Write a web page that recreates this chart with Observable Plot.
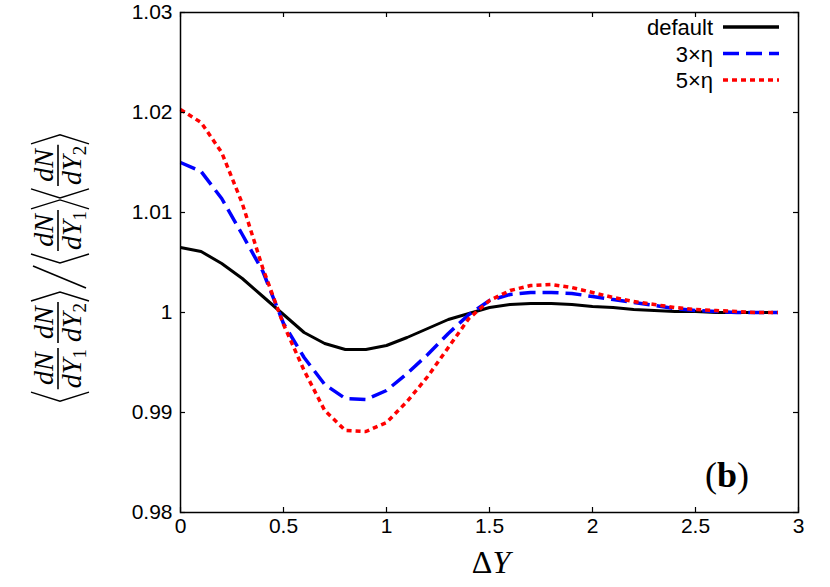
<!DOCTYPE html>
<html><head><meta charset="utf-8">
<script src="https://cdn.jsdelivr.net/npm/d3@7"></script>
<script src="https://cdn.jsdelivr.net/npm/@observablehq/plot@0.6"></script>
<style>body{margin:0;background:#fff}#chart svg{display:block}</style>
</head><body><div id="chart"></div>
<script>
const deltaY = [0,0.1,0.2,0.3,0.4,0.5,0.6,0.7,0.8,0.9,1.0,1.1,1.2,1.3,1.4,1.5,1.6,1.7,1.8,1.9,2.0,2.1,2.2,2.3,2.4,2.5,2.6,2.7,2.8,2.9];
const defaultVals = [1.0065,1.0061,1.0049,1.0034,1.0016,0.9998,0.9980,0.9969,0.9963,0.9963,0.9967,0.9975,0.9984,0.9993,0.9999,1.0005,1.0008,1.0009,1.0009,1.0008,1.0006,1.0005,1.0003,1.0002,1.0001,1.0001,1.0000,1.0000,1.0000,1.0000];
const eta3Vals = [1.0150,1.0141,1.0114,1.0078,1.0041,0.9989,0.9955,0.9928,0.9914,0.9913,0.9922,0.9939,0.9958,0.9979,0.9998,1.0012,1.0018,1.0020,1.0020,1.0019,1.0016,1.0013,1.0010,1.0007,1.0004,1.0002,1.0001,1.0000,1.0000,1.0000];
const eta5Vals = [1.0203,1.0190,1.0160,1.0109,1.0044,0.9988,0.9942,0.9902,0.9882,0.9881,0.9890,0.9911,0.9936,0.9965,0.9994,1.0012,1.0022,1.0027,1.0028,1.0025,1.0020,1.0015,1.0011,1.0008,1.0005,1.0003,1.0002,1.0001,1.0000,1.0000];
const seriesNames = ["default","3×η","5×η"];
const seriesColors = ["black","blue","red"];
const seriesDash = [null,"16,7","5,4"];
const xTicks = [0,0.5,1,1.5,2,2.5,3];
const xTickLabels = ["0","0.5","1","1.5","2","2.5","3"];
const yTicks = [0.98,0.99,1,1.01,1.02,1.03];
const yTickLabels = ["0.98","0.99","1","1.01","1.02","1.03"];

const seriesVals = [defaultVals, eta3Vals, eta5Vals];
const rows = seriesNames.flatMap((name, s) => deltaY.map((x, i) => ({series: name, x, y: seriesVals[s][i]})));

const W = 830, H = 587, mL = 180, mR = 32, mT = 12, mB = 75;
const plotW = W - mL - mR, plotH = H - mT - mB;
const tickLen = 5;

const chart = Plot.plot({
  width: W, height: H,
  marginLeft: mL, marginRight: mR, marginTop: mT, marginBottom: mB,
  style: {fontFamily: "Liberation Sans", fontSize: "21px", color: "black", background: "white"},
  x: {domain: [0, 3]},
  y: {domain: [0.98, 1.03]},
  marks: [
    ...seriesNames.map((name, s) => Plot.line(rows.filter(d => d.series === name), {
      x: "x", y: "y", stroke: seriesColors[s], strokeWidth: s === 0 ? 3 : 3.5,
      strokeDasharray: seriesDash[s], strokeLinecap: "butt"
    })),
    Plot.tickX(xTicks, {x: d => d, insetTop: plotH - tickLen, stroke: "black", strokeWidth: 1.2}),
    Plot.tickX(xTicks, {x: d => d, insetBottom: plotH - tickLen, stroke: "black", strokeWidth: 1.2}),
    Plot.tickY(yTicks, {y: d => d, insetRight: plotW - tickLen, stroke: "black", strokeWidth: 1.2}),
    Plot.tickY(yTicks, {y: d => d, insetLeft: plotW - tickLen, stroke: "black", strokeWidth: 1.2}),
    Plot.axisX({ticks: xTicks, tickFormat: (d, i) => xTickLabels[xTicks.indexOf(d)], tickSize: 0, tickPadding: 6, label: null, fontSize: 21}),
    Plot.axisY({ticks: yTicks, tickFormat: (d) => yTickLabels[yTicks.indexOf(d)], tickSize: 0, tickPadding: 8, label: null, fontSize: 21}),
    Plot.frame({stroke: "black", strokeWidth: 1.5})
  ]
});
document.getElementById("chart").appendChild(chart);

const svg = d3.select(chart);

// Legend
const leg = svg.append("g").attr("font-family", "Liberation Sans").attr("font-size", 22).attr("fill", "black");
seriesNames.forEach((n, i) => {
  const y = 27 + i * 26.5;
  leg.append("text").attr("x", 713).attr("y", y + 8).attr("text-anchor", "end").text(n);
  leg.append("line").attr("x1", 723).attr("x2", 779).attr("y1", y).attr("y2", y)
    .attr("stroke", seriesColors[i]).attr("stroke-width", 3.5)
    .attr("stroke-dasharray", seriesDash[i]);
});

// Panel label (b)
const pb = svg.append("text").attr("x", 749).attr("y", 487).attr("text-anchor", "end")
  .attr("font-family", "Liberation Serif").attr("font-size", 36).attr("fill", "black");
pb.append("tspan").text("(");
pb.append("tspan").attr("font-weight", "bold").text("b");
pb.append("tspan").text(")");

// X label ΔY
const xl = svg.append("text").attr("x", 491).attr("y", 573).attr("text-anchor", "middle")
  .attr("font-family", "Liberation Serif").attr("font-size", 32).attr("fill", "black");
xl.append("tspan").text("Δ");
xl.append("tspan").attr("font-style", "italic").text("Y");

// Y label: <dN/dY1 dN/dY2> / <dN/dY1><dN/dY2>
const g = svg.append("g").attr("font-family", "Liberation Serif").attr("font-size", 28).attr("fill", "black");
let u = 0;
function bracket(open) {
  const w = 9;
  const p = open ? `M${u + w},-27 L${u},2 L${u + w},31` : `M${u},-27 L${u + w},2 L${u},31`;
  g.append("path").attr("d", p).attr("fill", "none").attr("stroke", "black").attr("stroke-width", 1.4);
  u += w + 2;
}
function frac(sub) {
  const num = g.append("text").attr("text-anchor", "middle").attr("y", -5).attr("font-style", "italic").text("dN");
  const den = g.append("text").attr("text-anchor", "middle").attr("y", 23).attr("font-style", "italic");
  den.append("tspan").text("dY");
  den.append("tspan").attr("font-style", "normal").attr("font-size", 19).attr("dy", 5).text(sub);
  const w = Math.max(num.node().getComputedTextLength(), den.node().getComputedTextLength()) + 4;
  num.attr("x", u + w / 2); den.attr("x", u + w / 2);
  g.append("line").attr("x1", u + 1).attr("x2", u + w - 1).attr("y1", 0).attr("y2", 0)
    .attr("stroke", "black").attr("stroke-width", 1.6);
  u += w;
}
function slash() {
  g.append("path").attr("d", `M${u + 2},28 L${u + 24},-25`).attr("fill", "none").attr("stroke", "black").attr("stroke-width", 1.6);
  u += 27;
}
bracket(true); frac("1"); u += 3; frac("2"); bracket(false);
slash();
bracket(true); frac("1"); bracket(false);
bracket(true); frac("2"); bracket(false);
g.attr("transform", `translate(58,${267 + u / 2}) rotate(-90)`);
</script>
</body></html>
